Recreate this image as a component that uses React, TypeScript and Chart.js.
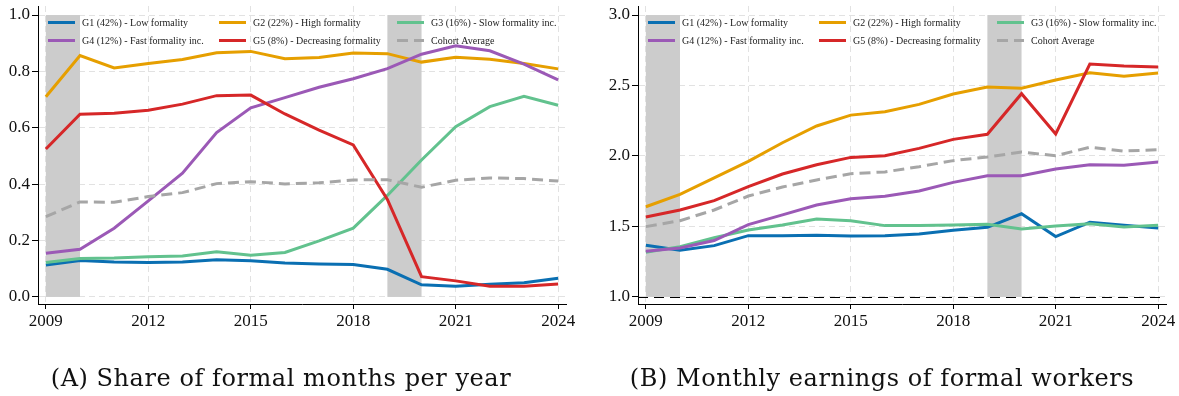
import React, { useEffect, useRef } from 'react';
import { Chart, registerables } from 'chart.js';

Chart.register(...registerables);

// ---------- data ----------
const YEARS = [2009, 2010, 2011, 2012, 2013, 2014, 2015, 2016, 2017, 2018, 2019, 2020, 2021, 2022, 2023, 2024];
const X_TICKS = [2009, 2012, 2015, 2018, 2021, 2024];
const A_Y_TICKS = [0, 0.2, 0.4, 0.6, 0.8, 1.0];
const B_Y_TICKS = [1.0, 1.5, 2.0, 2.5, 3.0];
const RECESSIONS = [[2009, 2010], [2019, 2020]];

const SERIES_LABELS = [
  'G1 (42%) - Low formality',
  'G2 (22%) - High formality',
  'G3 (16%) - Slow formality inc.',
  'G4 (12%) - Fast formality inc.',
  'G5 (8%) - Decreasing formality',
  'Cohort Average',
];

// Panel A: share of formal months per year
const A_G1 = [0.113, 0.129, 0.124, 0.122, 0.124, 0.132, 0.128, 0.120, 0.117, 0.115, 0.098, 0.043, 0.038, 0.045, 0.050, 0.066];
const A_G2 = [0.710, 0.856, 0.812, 0.828, 0.842, 0.866, 0.871, 0.845, 0.849, 0.865, 0.863, 0.833, 0.850, 0.843, 0.828, 0.809];
const A_G3 = [0.122, 0.136, 0.138, 0.143, 0.145, 0.160, 0.148, 0.158, 0.199, 0.244, 0.360, 0.486, 0.604, 0.675, 0.712, 0.680];
const A_G4 = [0.155, 0.169, 0.244, 0.341, 0.439, 0.583, 0.671, 0.707, 0.744, 0.774, 0.810, 0.861, 0.891, 0.873, 0.826, 0.770];
const A_G5 = [0.525, 0.648, 0.652, 0.662, 0.684, 0.714, 0.716, 0.649, 0.592, 0.539, 0.346, 0.072, 0.057, 0.038, 0.038, 0.046];
const A_AVG = [0.285, 0.337, 0.336, 0.356, 0.370, 0.402, 0.409, 0.401, 0.405, 0.415, 0.416, 0.389, 0.414, 0.422, 0.420, 0.411];

// Panel B: monthly earnings of formal workers
const B_G1 = [1.367, 1.331, 1.364, 1.435, 1.435, 1.437, 1.433, 1.435, 1.447, 1.473, 1.494, 1.590, 1.428, 1.530, 1.508, 1.489];
const B_G2 = [1.640, 1.728, 1.844, 1.962, 2.094, 2.213, 2.290, 2.314, 2.366, 2.440, 2.490, 2.480, 2.539, 2.590, 2.565, 2.589];
const B_G3 = [1.317, 1.357, 1.420, 1.475, 1.511, 1.553, 1.541, 1.506, 1.506, 1.511, 1.516, 1.482, 1.504, 1.520, 1.496, 1.508];
const B_G4 = [1.324, 1.348, 1.400, 1.513, 1.582, 1.652, 1.697, 1.714, 1.752, 1.813, 1.860, 1.860, 1.908, 1.938, 1.934, 1.957];
const B_G5 = [1.567, 1.617, 1.683, 1.782, 1.872, 1.938, 1.990, 2.002, 2.054, 2.118, 2.154, 2.442, 2.156, 2.652, 2.638, 2.631];
const B_AVG = [1.499, 1.541, 1.617, 1.716, 1.780, 1.830, 1.874, 1.887, 1.924, 1.967, 1.993, 2.028, 2.002, 2.062, 2.035, 2.045];

const TITLE_A = '(A) Share of formal months per year';
const TITLE_B = '(B) Monthly earnings of formal workers';

// ---------- styles ----------
const COLORS = ['#0a6fb2', '#e69f00', '#62c28e', '#9b59b6', '#d62728', '#a6a6a6'];
const DASHES = [[], [], [], [], [], [11, 6]];
const LEGEND_COLS = [10, 181, 359];
const LEGEND_ROWS = [16.5, 34.5];
const SERIF = "'Liberation Serif', 'Times New Roman', serif";

const overlayPlugin = {
  id: 'overlay',
  beforeDatasetsDraw(chart: any, _args: any, opts: any) {
    const { ctx, chartArea, scales } = chart;
    const x = scales.x;
    const y = scales.y;
    ctx.save();
    if (opts.refLine != null) {
      const yy = Math.round(y.getPixelForValue(opts.refLine)) + 0.5;
      ctx.strokeStyle = '#000';
      ctx.lineWidth = 1.2;
      ctx.setLineDash([10, 6]);
      ctx.beginPath();
      ctx.moveTo(chartArea.left, yy);
      ctx.lineTo(chartArea.right, yy);
      ctx.stroke();
      ctx.setLineDash([]);
    }
    ctx.fillStyle = '#cccccc';
    for (const [a, b] of RECESSIONS) {
      const x0 = x.getPixelForValue(a);
      const x1 = x.getPixelForValue(b);
      const yT = y.getPixelForValue(opts.shadeTop);
      const yB = y.getPixelForValue(opts.shadeBottom);
      ctx.fillRect(x0, yT, x1 - x0, yB - yT);
    }
    ctx.restore();
  },
  afterDatasetsDraw(chart: any) {
    const { ctx, chartArea } = chart;
    ctx.save();
    ctx.font = `10px ${SERIF}`;
    ctx.textBaseline = 'middle';
    chart.data.datasets.forEach((ds: any, i: number) => {
      const col = i % 3;
      const row = Math.floor(i / 3);
      const x0 = chartArea.left + LEGEND_COLS[col];
      const yy = chartArea.top + LEGEND_ROWS[row];
      ctx.strokeStyle = ds.borderColor;
      ctx.lineWidth = 3;
      ctx.setLineDash(ds.borderDash || []);
      ctx.beginPath();
      ctx.moveTo(x0, yy);
      ctx.lineTo(x0 + 27, yy);
      ctx.stroke();
      ctx.setLineDash([]);
      ctx.fillStyle = '#222';
      ctx.fillText(ds.label, x0 + 34, yy + 0.5);
    });
    ctx.restore();
  },
};

function buildConfig(series: number[][], yMin: number, yMax: number, yTicks: number[], axisWidth: number, padRight: number, shadeBottom: number, shadeTop: number, refLine: number | null) {
  const datasets = series.map((vals, i) => ({
    label: SERIES_LABELS[i],
    data: YEARS.map((yr, k) => ({ x: yr, y: vals[k] })),
    borderColor: COLORS[i],
    backgroundColor: COLORS[i],
    borderWidth: 3,
    borderDash: DASHES[i],
    pointRadius: 0,
    tension: 0,
    fill: false,
    order: 6 - i,
  }));
  const tickFont = { family: SERIF, size: 17 };
  return {
    type: 'line' as const,
    data: { datasets },
    options: {
      animation: false,
      responsive: false,
      devicePixelRatio: 1,
      layout: { padding: { left: 0, top: 6, right: padRight, bottom: 0 } },
      plugins: {
        legend: { display: false },
        tooltip: { enabled: false },
        overlay: { shadeBottom, shadeTop, refLine },
      },
      scales: {
        x: {
          type: 'linear',
          min: 2008.77,
          max: 2024.23,
          afterBuildTicks: (s: any) => { s.ticks = X_TICKS.map((v) => ({ value: v })); },
          afterFit: (s: any) => { s.height = 92; s.paddingLeft = 0; s.paddingRight = 0; },
          ticks: { font: tickFont, color: '#111', padding: 2, maxRotation: 0, autoSkip: false, callback: (v: any) => String(v) },
          grid: { color: '#e2e2e2', lineWidth: 1, tickColor: '#000', tickLength: 5, tickBorderDash: [], drawTicks: true },
          border: { display: true, color: '#000', width: 1, dash: [6, 4] },
        },
        y: {
          type: 'linear',
          min: yMin,
          max: yMax,
          afterBuildTicks: (s: any) => { s.ticks = yTicks.map((v) => ({ value: v })); },
          afterFit: (s: any) => { s.width = axisWidth; s.paddingTop = 0; s.paddingBottom = 0; },
          ticks: { font: tickFont, color: '#111', padding: 2, autoSkip: false, callback: (v: any) => Number(v).toFixed(1) },
          grid: { color: '#e2e2e2', lineWidth: 1, tickColor: '#000', tickLength: 6, tickBorderDash: [], drawTicks: true },
          border: { display: true, color: '#000', width: 1, dash: [6, 4] },
        },
      },
    },
    plugins: [overlayPlugin],
  };
}

function Panel(props: { left: number; width: number; config: any }) {
  const ref = useRef<HTMLCanvasElement>(null);
  useEffect(() => {
    if (!ref.current) return;
    const chart = new Chart(ref.current, props.config);
    return () => chart.destroy();
  }, []);
  return (
    <canvas
      ref={ref}
      width={props.width}
      height={396}
      style={{ position: 'absolute', left: props.left, top: 0, width: props.width, height: 396 }}
    />
  );
}

const titleStyle = (center: number): React.CSSProperties => ({
  position: 'absolute',
  left: center - 300,
  width: 600,
  top: 363,
  height: 30,
  lineHeight: '30px',
  textAlign: 'center',
  fontFamily: "'DejaVu Serif', serif",
  fontSize: 24,
  letterSpacing: '0.55px',
  color: '#111',
  whiteSpace: 'nowrap',
});

export default function App() {
  const configA = buildConfig([A_G1, A_G2, A_G3, A_G4, A_G5, A_AVG], -0.025, 1.032, A_Y_TICKS, 38, 24, 0, 1.0, null);
  const configB = buildConfig([B_G1, B_G2, B_G3, B_G4, B_G5, B_AVG], 0.95, 3.064, B_Y_TICKS, 48, 13, 1.0, 3.0, 1.0);
  return (
    <div style={{ position: 'absolute', left: 0, top: 0, width: 1179, height: 396, background: '#fff', overflow: 'hidden' }}>
      <Panel left={0} width={590} config={configA} />
      <Panel left={590} width={589} config={configB} />
      <div style={titleStyle(281)}>{TITLE_A}</div>
      <div style={titleStyle(882)}>{TITLE_B}</div>
    </div>
  );
}
